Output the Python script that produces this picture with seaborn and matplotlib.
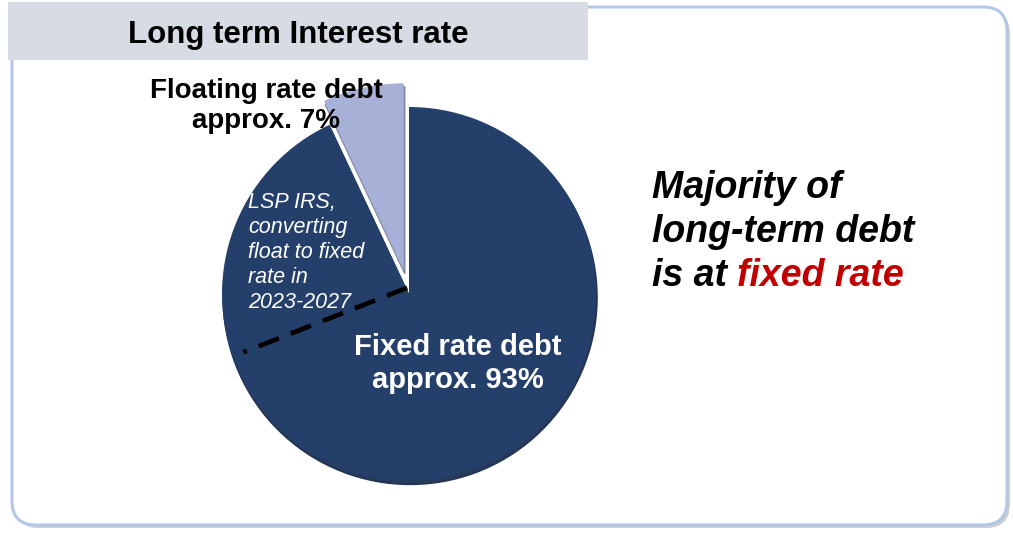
import numpy as np
import matplotlib
matplotlib.use("Agg")
import matplotlib.pyplot as plt
from matplotlib.patches import FancyBboxPatch, Rectangle
import seaborn as sns

# ---- data -------------------------------------------------------------
segments = ["Floating rate debt", "Fixed rate debt"]
shares = [7, 93]
slice_colors = ["#a7b1d8", "#253f6b"]
title = "Long term Interest rate"
swap_note = ["LSP IRS,", "converting", "float to fixed", "rate in", "2023-2027"]
message = ["Majority of", "long-term debt", "is at "]
message_hl = "fixed rate"

sns.set_theme(style="white")
plt.rcParams["font.family"] = ["Liberation Sans", "DejaVu Sans"]

W, H = 1013, 534
fig = plt.figure(figsize=(W / 100, H / 100), dpi=100)
ax = fig.add_axes([0, 0, 1, 1])
ax.set_xlim(0, W)
ax.set_ylim(0, H)
ax.axis("off")


def Y(py):
    """Convert a top-down pixel row into the axis' upward y."""
    return H - py


# ---- panel frame ------------------------------------------------------
shadow = FancyBboxPatch((15, Y(528)), 995, 518,
                        boxstyle="round,pad=0,rounding_size=24",
                        facecolor="#a8a8a8", edgecolor="none", alpha=0.55, zorder=0.1)
ax.add_patch(shadow)
frame = FancyBboxPatch((12, Y(525)), 995, 518,
                       boxstyle="round,pad=0,rounding_size=24",
                       facecolor="white", edgecolor="#b4c7e7", lw=2.2, zorder=0.2)
ax.add_patch(frame)

band = Rectangle((8, Y(60)), 580, 58, facecolor="#d6dbe4", edgecolor="none", zorder=0.3)
ax.add_patch(band)
ax.text(298, Y(43), title, ha="center", va="baseline", fontsize=22.5,
        fontweight="bold", color="black", zorder=3)

# ---- pie --------------------------------------------------------------
center = (409, Y(294))
radius = 187
explode_frac = [0.13, 0.0]
wedges, _ = ax.pie(shares, colors=slice_colors, startangle=90, counterclock=True,
                   explode=[f * radius for f in explode_frac], center=center,
                   radius=radius, frame=True,
                   shadow={"ox": 0.8, "oy": -2.5, "shade": 0.25, "alpha": 0.95},
                   wedgeprops={"edgecolor": "none"})
ax.set_xlim(0, W)
ax.set_ylim(0, H)
ax.set_aspect("auto")
ax.axis("off")
for w in wedges:
    w.set_zorder(4)

# dashed swap boundary, radial from the pie centre
ang = np.deg2rad(201.5)
r0, r1 = 2, 178
ax.plot([center[0] + r0 * np.cos(ang), center[0] + r1 * np.cos(ang)],
        [Y(287) + r0 * np.sin(ang), Y(287) + r1 * np.sin(ang)],
        color="black", lw=3.4, dashes=(4.6, 2.7), solid_capstyle="butt",
        dash_capstyle="butt", zorder=6)

# ---- slice labels -----------------------------------------------------
fl_lines = [segments[0], f"approx. {shares[0]}%"]
for txt, base in zip(fl_lines, [98, 128]):
    ax.text(266, Y(base), txt, ha="center", va="baseline", fontsize=20,
            fontweight="bold", color="black", zorder=7)

fx_lines = [segments[1], f"approx. {shares[1]}%"]
for txt, base in zip(fx_lines, [355, 388]):
    ax.text(458, Y(base), txt, ha="center", va="baseline", fontsize=21,
            fontweight="bold", color="white", zorder=7)

for i, txt in enumerate(swap_note):
    ax.text(248, Y(208 + 25 * i), txt, ha="left", va="baseline", fontsize=15.5,
            fontstyle="italic", color="white", zorder=7)

# ---- key message ------------------------------------------------------
last = None
for i, txt in enumerate(message):
    last = ax.text(652, Y(198 + 44 * i), txt, ha="left", va="baseline",
                   fontsize=27, fontweight="bold", fontstyle="italic",
                   color="black", zorder=7)
ax.annotate(message_hl, xy=(1, 0), xycoords=last, va="bottom", ha="left",
            fontsize=27, fontweight="bold", fontstyle="italic",
            color="#c00000", zorder=7)

fig.savefig("out.png", dpi=100)
